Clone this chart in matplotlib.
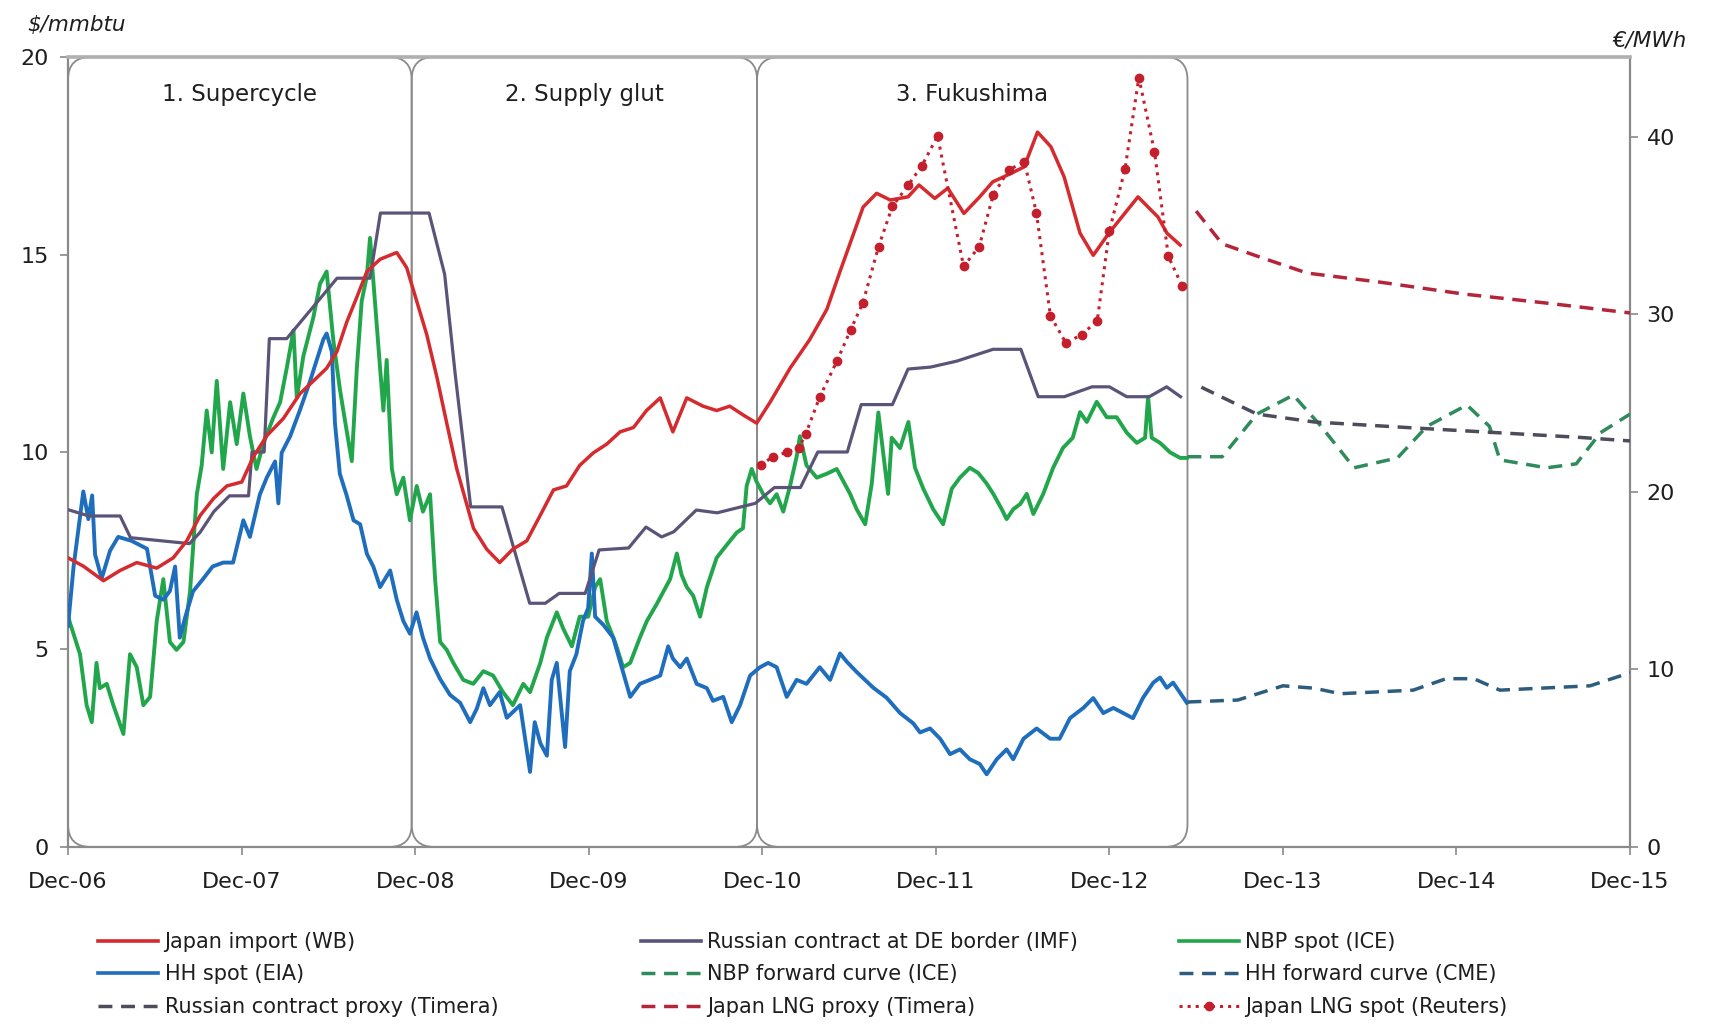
import matplotlib
matplotlib.use("Agg")
import matplotlib.pyplot as plt
from matplotlib.patches import FancyBboxPatch
from matplotlib.lines import Line2D

# x values are years after Dec-06 (0 = Dec-06, 9 = Dec-15), prices in $/mmbtu
year_labels = ["Dec-06", "Dec-07", "Dec-08", "Dec-09", "Dec-10",
               "Dec-11", "Dec-12", "Dec-13", "Dec-14", "Dec-15"]

periods = ["1. Supercycle", "2. Supply glut", "3. Fukushima"]
period_edges = [0.0, 1.98, 3.97, 6.45]

# Japan import (WB)
jp_t = [0.0, 0.088, 0.204, 0.30, 0.396, 0.511, 0.606, 0.684, 0.761, 0.838, 0.915, 1.001,
        1.068, 1.145, 1.241, 1.337, 1.414, 1.49, 1.549, 1.606, 1.664, 1.722, 1.798, 1.894,
        1.951, 2.009, 2.067, 2.125, 2.182, 2.24, 2.336, 2.412, 2.487, 2.563, 2.643, 2.72,
        2.797, 2.872, 2.948, 3.027, 3.104, 3.181, 3.258, 3.333, 3.412, 3.485, 3.565, 3.659,
        3.737, 3.813, 3.889, 3.968, 4.045, 4.16, 4.274, 4.372, 4.448, 4.581, 4.659, 4.737,
        4.84, 4.903, 4.994, 5.069, 5.162, 5.253, 5.328, 5.432, 5.509, 5.586, 5.663, 5.739,
        5.831, 5.907, 5.997, 6.165, 6.28, 6.332, 6.408]
jp_v = [7.32, 7.11, 6.74, 7.0, 7.2, 7.06, 7.32, 7.75, 8.39, 8.82, 9.14, 9.24,
        9.88, 10.41, 10.85, 11.48, 11.8, 12.12, 12.54, 13.29, 13.92, 14.57, 14.88, 15.05,
        14.67, 13.82, 12.97, 11.9, 10.73, 9.57, 8.07, 7.54, 7.2, 7.54, 7.75, 8.39,
        9.04, 9.14, 9.66, 9.98, 10.2, 10.51, 10.62, 11.05, 11.37, 10.51, 11.37, 11.16,
        11.05, 11.16, 10.94, 10.73, 11.26, 12.12, 12.85, 13.61, 14.57, 16.2, 16.55, 16.38,
        16.46, 16.76, 16.42, 16.68, 16.04, 16.46, 16.84, 17.05, 17.22, 18.1, 17.73, 16.97,
        15.54, 14.98, 15.54, 16.46, 15.95, 15.54, 15.24]

# Russian contract at DE border (IMF)
ru_t = [0.0, 0.12, 0.30, 0.36, 0.70, 0.76, 0.84, 0.93, 1.04, 1.06, 1.13, 1.16, 1.26,
        1.55, 1.74, 1.80, 2.08, 2.17, 2.23, 2.32, 2.50, 2.56, 2.66, 2.75, 2.83, 2.98,
        3.06, 3.23, 3.33, 3.42, 3.49, 3.62, 3.74, 3.96, 4.07, 4.22, 4.32, 4.49, 4.57,
        4.75, 4.84, 4.97, 5.12, 5.33, 5.49, 5.59, 5.74, 5.90, 6.00, 6.10, 6.23, 6.33, 6.41]
ru_v = [8.54, 8.38, 8.38, 7.83, 7.68, 7.96, 8.49, 8.89, 8.89, 10.0, 10.0, 12.87, 12.87,
        14.4, 14.4, 16.05, 16.05, 14.5, 12.0, 8.61, 8.61, 7.69, 6.17, 6.17, 6.42, 6.42,
        7.52, 7.57, 8.1, 7.85, 7.98, 8.53, 8.46, 8.7, 9.1, 9.1, 10.0, 10.0, 11.2,
        11.2, 12.1, 12.15, 12.3, 12.6, 12.6, 11.4, 11.4, 11.65, 11.65, 11.4, 11.4, 11.65, 11.4]

# NBP spot (ICE)
nbp_t = [0.0, 0.069, 0.107, 0.137, 0.164, 0.183, 0.223, 0.261, 0.319, 0.357, 0.396, 0.434,
         0.473, 0.511, 0.549, 0.587, 0.625, 0.665, 0.703, 0.742, 0.77, 0.799, 0.828, 0.857,
         0.894, 0.934, 0.972, 1.01, 1.048, 1.086, 1.124, 1.181, 1.222, 1.26, 1.299, 1.318,
         1.356, 1.413, 1.452, 1.49, 1.528, 1.566, 1.606, 1.635, 1.664, 1.692, 1.722, 1.74,
         1.77, 1.798, 1.817, 1.836, 1.866, 1.894, 1.932, 1.97, 2.009, 2.045, 2.086, 2.115,
         2.144, 2.182, 2.22, 2.277, 2.335, 2.393, 2.449, 2.506, 2.563, 2.623, 2.662, 2.721,
         2.759, 2.816, 2.854, 2.903, 2.948, 2.997, 3.037, 3.066, 3.104, 3.152, 3.198, 3.239,
         3.295, 3.335, 3.392, 3.469, 3.508, 3.535, 3.565, 3.602, 3.642, 3.681, 3.737, 3.794,
         3.853, 3.889, 3.91, 3.939, 3.968, 4.006, 4.045, 4.083, 4.121, 4.16, 4.198, 4.217,
         4.255, 4.314, 4.372, 4.429, 4.506, 4.544, 4.593, 4.631, 4.669, 4.697, 4.725, 4.746,
         4.794, 4.842, 4.88, 4.928, 4.985, 5.042, 5.092, 5.139, 5.196, 5.244, 5.293, 5.331,
         5.38, 5.408, 5.446, 5.486, 5.524, 5.562, 5.619, 5.676, 5.732, 5.789, 5.831, 5.87,
         5.927, 5.985, 6.042, 6.1, 6.158, 6.206, 6.223, 6.244, 6.292, 6.35, 6.408, 6.446]
nbp_v = [5.83, 4.88, 3.59, 3.16, 4.66, 4.02, 4.13, 3.59, 2.86, 4.88, 4.55, 3.59,
         3.8, 5.72, 6.78, 5.19, 4.99, 5.19, 6.47, 8.93, 9.66, 11.05, 9.99, 11.8,
         9.57, 11.26, 10.2, 11.48, 10.4, 9.57, 10.2, 10.85, 11.26, 12.12, 13.08, 11.37,
         12.43, 13.4, 14.26, 14.57, 12.85, 11.6, 10.52, 9.77, 12.12, 13.82, 14.46, 15.42,
         13.7, 12.12, 11.05, 12.33, 9.57, 8.93, 9.35, 8.27, 9.14, 8.49, 8.93, 6.78,
         5.19, 4.99, 4.66, 4.23, 4.13, 4.45, 4.34, 3.92, 3.59, 4.13, 3.92, 4.66,
         5.3, 5.94, 5.52, 5.08, 5.83, 5.83, 6.58, 6.78, 5.72, 5.19, 4.55, 4.66,
         5.3, 5.72, 6.15, 6.78, 7.43, 6.89, 6.58, 6.36, 5.83, 6.58, 7.32, 7.64,
         7.96, 8.07, 9.14, 9.57, 9.24, 8.93, 8.7, 8.93, 8.49, 9.14, 9.88, 10.4,
         9.66, 9.35, 9.45, 9.57, 8.94, 8.55, 8.17, 9.2, 11.0, 9.98, 8.94, 10.36,
         10.1, 10.76, 9.6, 9.07, 8.55, 8.17, 9.07, 9.35, 9.6, 9.47, 9.2, 8.94,
         8.55, 8.3, 8.55, 8.68, 8.94, 8.43, 8.94, 9.6, 10.1, 10.36, 11.01, 10.76,
         11.27, 10.88, 10.88, 10.49, 10.23, 10.36, 11.4, 10.36, 10.23, 9.99, 9.85, 9.85]

# HH spot (EIA)
hh_t = [0.0, 0.032, 0.088, 0.117, 0.139, 0.156, 0.194, 0.242, 0.289, 0.366, 0.455, 0.502,
        0.549, 0.587, 0.617, 0.644, 0.676, 0.72, 0.777, 0.833, 0.894, 0.951, 1.01, 1.048,
        1.105, 1.145, 1.193, 1.212, 1.231, 1.28, 1.337, 1.395, 1.433, 1.471, 1.49, 1.52,
        1.538, 1.566, 1.604, 1.645, 1.683, 1.722, 1.759, 1.798, 1.856, 1.894, 1.932, 1.97,
        2.008, 2.045, 2.086, 2.144, 2.201, 2.259, 2.317, 2.355, 2.393, 2.431, 2.487, 2.528,
        2.605, 2.662, 2.689, 2.721, 2.759, 2.787, 2.816, 2.864, 2.891, 2.929, 2.967, 2.997,
        3.018, 3.037, 3.085, 3.141, 3.19, 3.239, 3.295, 3.352, 3.412, 3.458, 3.485, 3.527,
        3.565, 3.622, 3.681, 3.716, 3.775, 3.824, 3.872, 3.93, 3.987, 4.034, 4.083, 4.141,
        4.198, 4.255, 4.331, 4.391, 4.448, 4.487, 4.544, 4.64, 4.716, 4.794, 4.87, 4.909,
        4.967, 5.025, 5.082, 5.139, 5.196, 5.253, 5.293, 5.351, 5.408, 5.446, 5.505, 5.581,
        5.659, 5.713, 5.773, 5.85, 5.907, 5.965, 6.023, 6.08, 6.136, 6.193, 6.253, 6.292,
        6.331, 6.367, 6.408, 6.446]
hh_v = [5.6, 7.1, 9.0, 8.3, 8.9, 7.4, 6.8, 7.5, 7.85, 7.75, 7.55, 6.36,
        6.26, 6.48, 7.1, 5.3, 5.83, 6.47, 6.78, 7.1, 7.2, 7.2, 8.27, 7.85,
        8.92, 9.35, 9.76, 8.7, 9.98, 10.4, 11.07, 11.8, 12.33, 12.85, 13.0, 12.54,
        10.73, 9.45, 8.92, 8.27, 8.17, 7.42, 7.1, 6.58, 7.0, 6.26, 5.72, 5.4,
        5.94, 5.3, 4.77, 4.25, 3.85, 3.65, 3.16, 3.5, 4.02, 3.59, 3.92, 3.27,
        3.59, 1.9, 3.16, 2.63, 2.31, 4.23, 4.66, 2.53, 4.45, 4.88, 5.72, 6.05,
        7.43, 5.83, 5.62, 5.3, 4.55, 3.8, 4.13, 4.23, 4.34, 5.08, 4.77, 4.55,
        4.77, 4.13, 4.02, 3.7, 3.8, 3.16, 3.59, 4.34, 4.55, 4.66, 4.55, 3.8,
        4.23, 4.13, 4.55, 4.23, 4.9, 4.69, 4.43, 4.03, 3.78, 3.39, 3.13, 2.9,
        3.0, 2.74, 2.35, 2.47, 2.22, 2.1, 1.84, 2.22, 2.47, 2.22, 2.74, 3.0,
        2.74, 2.74, 3.26, 3.52, 3.77, 3.39, 3.52, 3.39, 3.26, 3.77, 4.16, 4.29,
        4.03, 4.16, 3.9, 3.65]

# Japan LNG spot (Reuters), monthly
lng_t = [3.99, 4.06, 4.14, 4.21, 4.25, 4.33, 4.43, 4.51, 4.58, 4.67, 4.75, 4.84, 4.92,
         5.01, 5.16, 5.25, 5.33, 5.42, 5.51, 5.58, 5.66, 5.75, 5.84, 5.93, 6.00, 6.09,
         6.17, 6.26, 6.34, 6.42]
lng_v = [9.66, 9.88, 9.99, 10.1, 10.45, 11.38, 12.3, 13.1, 13.78, 15.2, 16.22, 16.75, 17.25,
         18.0, 14.7, 15.2, 16.5, 17.14, 17.35, 16.05, 13.45, 12.76, 12.97, 13.32, 15.6, 17.16,
         19.48, 17.6, 14.95, 14.2]

# forward curves / proxies
nbpf_t = [6.45, 6.65, 6.85, 7.06, 7.22, 7.41, 7.66, 7.83, 8.06, 8.19, 8.25, 8.52, 8.69, 8.83, 9.0]
nbpf_v = [9.88, 9.88, 10.96, 11.44, 10.65, 9.6, 9.85, 10.65, 11.19, 10.65, 9.8, 9.6, 9.7, 10.49, 10.96]

hhf_t = [6.45, 6.74, 7.0, 7.18, 7.33, 7.75, 7.94, 8.1, 8.25, 8.77, 9.0]
hhf_v = [3.67, 3.72, 4.08, 4.02, 3.88, 3.97, 4.26, 4.26, 3.97, 4.08, 4.41]

rup_t = [6.53, 6.85, 7.18, 7.79, 8.19, 8.71, 9.0]
rup_v = [11.64, 10.96, 10.76, 10.6, 10.5, 10.37, 10.28]

lngp_t = [6.50, 6.65, 6.89, 7.14, 7.56, 8.04, 8.52, 9.0]
lngp_v = [16.1, 15.27, 14.9, 14.53, 14.3, 14.0, 13.77, 13.52]

c_jp = "#d52a2e"
c_ru = "#5c5478"
c_nbp = "#22a64c"
c_hh = "#1f6dbd"
c_nbpf = "#2f8a5c"
c_hhf = "#2d5d7e"
c_rup = "#4c4c5a"
c_lngp = "#b42539"
c_lng = "#c41f2c"
grey = "#8a8a8a"
ink = "#1e1e1e"

fig = plt.figure(figsize=(17.18, 10.24), dpi=100)
ax = fig.add_axes([0.0396, 0.1729, 0.9092, 0.7714])
ax.set_xlim(0, 9)
ax.set_ylim(0, 20)

# period boxes with rounded corners
asp = (20 / 790) / (9 / 1562)
for i, name in enumerate(periods):
    x0, x1 = period_edges[i], period_edges[i + 1]
    box = FancyBboxPatch((x0, 0), x1 - x0, 20,
                         boxstyle="round,pad=0,rounding_size=0.13",
                         mutation_aspect=asp, fill=False,
                         edgecolor=grey, lw=1.3, zorder=1)
    ax.add_patch(box)
    ax.text((x0 + x1) / 2, 19.05, name, ha="center", va="center",
            fontsize=16.5, color=ink, zorder=5)

ax.plot(nbp_t, nbp_v, color=c_nbp, lw=2.8, zorder=3)
ax.plot(hh_t, hh_v, color=c_hh, lw=2.8, zorder=3)
ax.plot(ru_t, ru_v, color=c_ru, lw=2.3, zorder=4)
ax.plot(jp_t, jp_v, color=c_jp, lw=2.5, zorder=4)
ax.plot(lng_t, lng_v, color=c_lng, lw=2.2, ls=":", marker="o", ms=6, zorder=4)
ax.plot(nbpf_t, nbpf_v, color=c_nbpf, lw=2.5, dashes=(4, 2.5), zorder=3)
ax.plot(hhf_t, hhf_v, color=c_hhf, lw=2.5, dashes=(4, 2.5), zorder=3)
ax.plot(rup_t, rup_v, color=c_rup, lw=2.5, dashes=(4, 2.5), zorder=3)
ax.plot(lngp_t, lngp_v, color=c_lngp, lw=2.5, dashes=(4, 2.5), zorder=3)

ax.set_xticks(range(10))
ax.set_xticklabels(year_labels)
ax.set_yticks([0, 5, 10, 15, 20])
ax.tick_params(axis="both", labelsize=16, colors=grey, labelcolor=ink,
               length=6, width=1.2)
ax.tick_params(axis="x", pad=12)
ax.tick_params(axis="y", pad=8)
for side in ["left", "bottom", "right"]:
    ax.spines[side].set_color(grey)
    ax.spines[side].set_linewidth(1.6)
ax.spines["top"].set_color("#b0b0b0")
ax.spines["top"].set_linewidth(2.6)

ax2 = ax.twinx()
ax2.set_ylim(0, 44.5)
ax2.set_yticks([0, 10, 20, 30, 40])
ax2.tick_params(axis="y", labelsize=16, colors=grey, labelcolor=ink,
                length=6, width=1.2, pad=6)
for side in ["left", "bottom", "right", "top"]:
    ax2.spines[side].set_visible(False)

fig.text(0.016, 0.985, "$/mmbtu", fontsize=15.5, style="italic", color=ink,
         ha="left", va="top")
fig.text(0.982, 0.970, "€/MWh", fontsize=15.5, style="italic", color=ink,
         ha="right", va="top")

# legend, three columns placed like the original
h_jp = Line2D([], [], color=c_jp, lw=2.6)
h_hh = Line2D([], [], color=c_hh, lw=2.6)
h_rup = Line2D([], [], color=c_rup, lw=2.5, dashes=(4, 2.5))
h_ru = Line2D([], [], color=c_ru, lw=2.6)
h_nbpf = Line2D([], [], color=c_nbpf, lw=2.5, dashes=(4, 2.5))
h_lngp = Line2D([], [], color=c_lngp, lw=2.5, dashes=(4, 2.5))
h_nbp = Line2D([], [], color=c_nbp, lw=2.6)
h_hhf = Line2D([], [], color=c_hhf, lw=2.5, dashes=(4, 2.5))
h_lng = Line2D([], [], color=c_lng, lw=2.2, ls=":", marker="o", ms=6)

columns = [
    ([h_jp, h_hh, h_rup], ["Japan import (WB)", "HH spot (EIA)", "Russian contract proxy (Timera)"], 0.057),
    ([h_ru, h_nbpf, h_lngp], ["Russian contract at DE border (IMF)", "NBP forward curve (ICE)", "Japan LNG proxy (Timera)"], 0.373),
    ([h_nbp, h_hhf, h_lng], ["NBP spot (ICE)", "HH forward curve (CME)", "Japan LNG spot (Reuters)"], 0.686),
]
for handles, labels, xpos in columns:
    leg = fig.legend(handles, labels, loc="upper left", bbox_to_anchor=(xpos, 0.090),
                     frameon=False, fontsize=15, handlelength=2.9, handletextpad=0.3,
                     labelspacing=0.6, borderpad=0, borderaxespad=0)
    for txt in leg.get_texts():
        txt.set_color(ink)

fig.savefig("out.png", dpi=100)
